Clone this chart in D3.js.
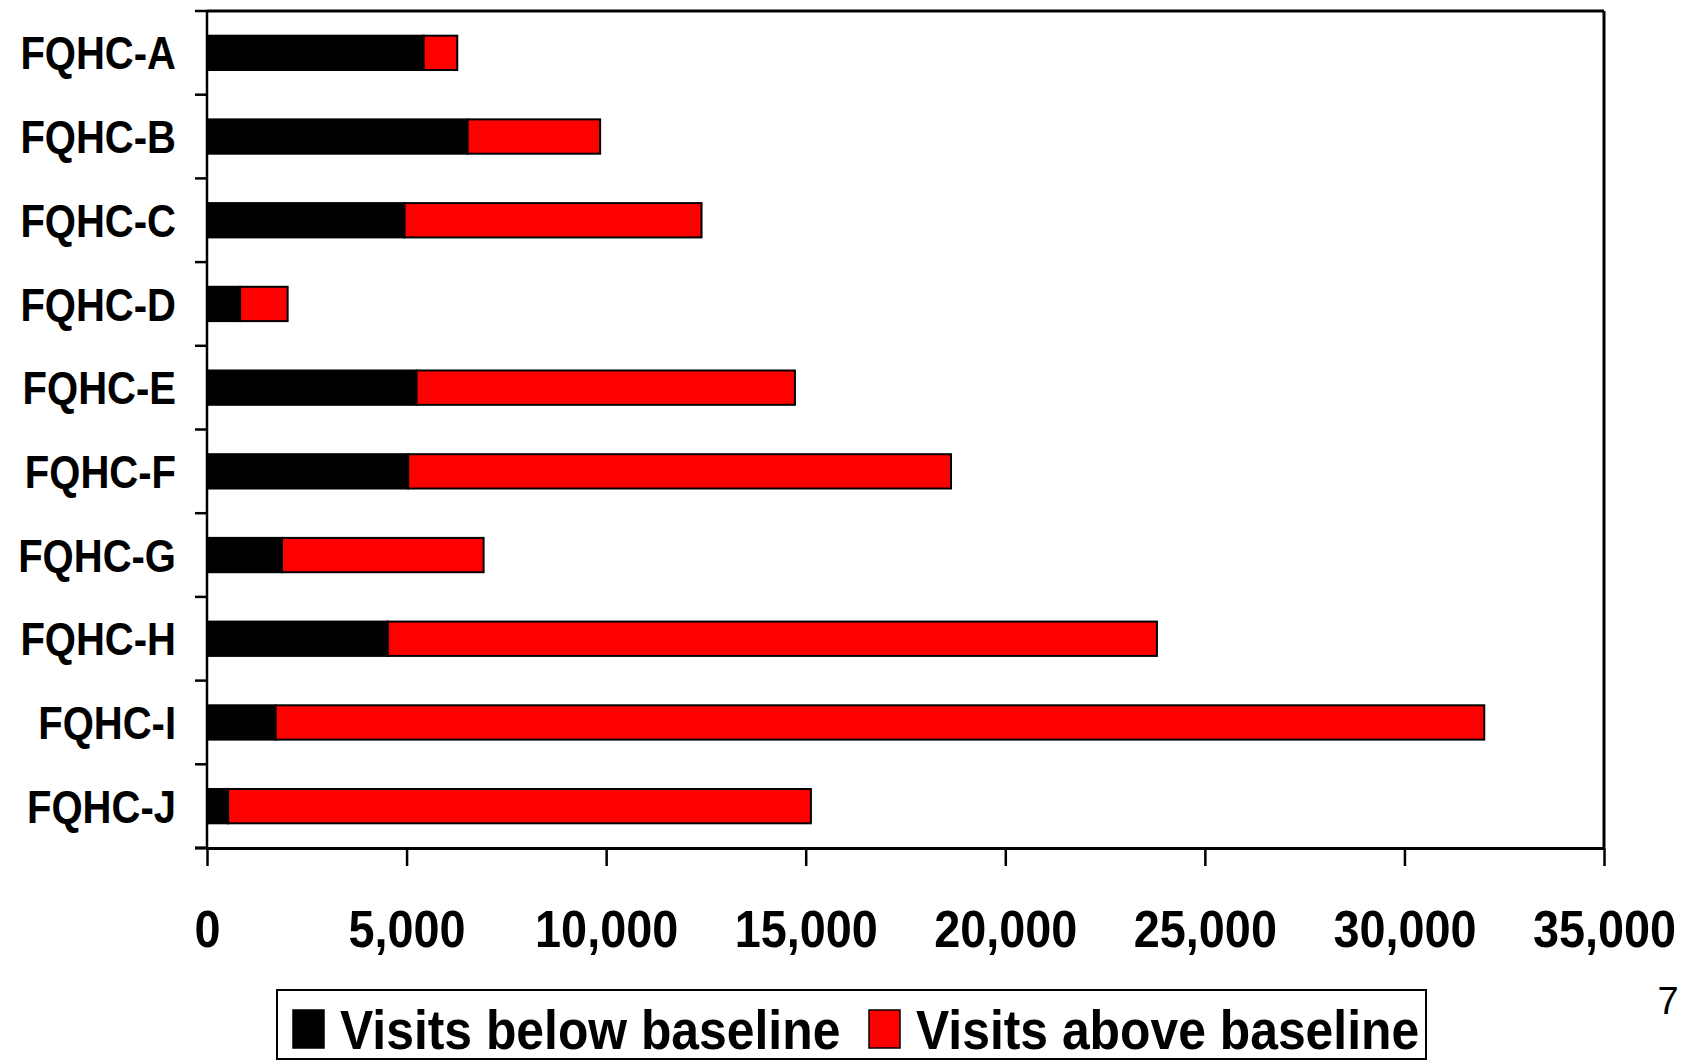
<!DOCTYPE html>
<html>
<head>
<meta charset="utf-8">
<script src="https://cdn.jsdelivr.net/npm/d3@7"></script>
<style>
  body { margin: 0; background: #fff; }
  text { font-family: "Liberation Sans", Arial, sans-serif; }
</style>
</head>
<body>
<div id="plot"></div>
<script>
const centers = ["FQHC-A", "FQHC-B", "FQHC-C", "FQHC-D", "FQHC-E",
                 "FQHC-F", "FQHC-G", "FQHC-H", "FQHC-I", "FQHC-J"];
const belowBaseline = [5430, 6530, 4950, 830, 5250, 5040, 1880, 4530, 1720, 530];
const aboveBaseline = [840, 3320, 7440, 1190, 9480, 13600, 5050, 19270, 30280, 14600];
const xTicks = [0, 5000, 10000, 15000, 20000, 25000, 30000, 35000];
const seriesNames = ["Visits below baseline", "Visits above baseline"];
const seriesColors = ["#000000", "#ff0000"];

// Set up the SVG container
const margin = { top: 11, right: 86, bottom: 214, left: 207 };
const width = 1690 - margin.left - margin.right;
const height = 1062 - margin.top - margin.bottom;

const root = d3.select("#plot").append("svg")
  .attr("width", 1690)
  .attr("height", 1062);

const svg = root.append("g")
  .attr("transform", "translate(" + margin.left + "," + margin.top + ")");

// Scales
const xScale = d3.scaleLinear().domain([0, 35000]).range([0, width]);
const yScale = d3.scaleBand().domain(centers).range([0, height])
  .paddingInner(0.59).paddingOuter(0.295);

// stacked data
const rows = centers.map((c, i) => ({ name: c, below: belowBaseline[i], above: aboveBaseline[i] }));
const stacked = d3.stack().keys(["below", "above"])(rows);

// plot frame (top and right)
svg.append("line")
  .attr("x1", 0).attr("x2", width).attr("y1", 0).attr("y2", 0)
  .attr("stroke", "#000").attr("stroke-width", 3);
svg.append("line")
  .attr("x1", width).attr("x2", width).attr("y1", 0).attr("y2", height)
  .attr("stroke", "#000").attr("stroke-width", 3);

// bars
svg.selectAll("g.series")
  .data(stacked)
  .enter().append("g")
  .attr("class", "series")
  .attr("fill", (d, i) => seriesColors[i])
  .selectAll("rect")
  .data(d => d)
  .enter().append("rect")
  .attr("x", d => xScale(d[0]))
  .attr("width", d => xScale(d[1]) - xScale(d[0]))
  .attr("y", d => yScale(d.data.name))
  .attr("height", yScale.bandwidth())
  .attr("stroke", "#000")
  .attr("stroke-width", 2);

// bottom axis
const xAxis = svg.append("g")
  .attr("transform", "translate(0," + height + ")")
  .call(d3.axisBottom(xScale).tickValues(xTicks).tickSize(18).tickSizeOuter(0)
    .tickFormat(d3.format(",")));
xAxis.select(".domain").attr("stroke-width", 3);
xAxis.selectAll(".tick line").attr("stroke-width", 2.5);
xAxis.selectAll(".tick text")
  .attr("font-size", 52)
  .attr("font-weight", "bold")
  .attr("fill", "#000")
  .attr("y", 62)
  .attr("dy", "0.71em")
  .attr("transform", "scale(0.9,1)");
// bottom line extends left to the outer tick
svg.append("line")
  .attr("x1", -12).attr("x2", 0).attr("y1", height).attr("y2", height)
  .attr("stroke", "#000").attr("stroke-width", 3);

// left axis: line plus ticks between categories
svg.append("line")
  .attr("x1", 0).attr("x2", 0).attr("y1", 0).attr("y2", height)
  .attr("stroke", "#000").attr("stroke-width", 2.5);
const bounds = centers.map(c => yScale(c) - yScale.step() * yScale.paddingOuter());
bounds.push(height);
svg.selectAll("line.ytick")
  .data(bounds)
  .enter().append("line")
  .attr("class", "ytick")
  .attr("x1", -12).attr("x2", 0)
  .attr("y1", d => d).attr("y2", d => d)
  .attr("stroke", "#000").attr("stroke-width", 2.5);

// category labels
svg.selectAll("text.cat")
  .data(centers)
  .enter().append("text")
  .attr("class", "cat")
  .attr("transform", d => "translate(-31," + (yScale(d) + yScale.bandwidth() / 2) + ") scale(0.87,1)")
  .attr("text-anchor", "end")
  .attr("dy", "0.36em")
  .attr("font-size", 46)
  .attr("font-weight", "bold")
  .attr("fill", "#000")
  .text(d => d);

// legend
const legend = root.append("g");
legend.append("rect")
  .attr("x", 277).attr("y", 990)
  .attr("width", 1149).attr("height", 69)
  .attr("fill", "#fff").attr("stroke", "#000").attr("stroke-width", 2);
const legendX = [293, 869];
seriesNames.forEach((name, i) => {
  legend.append("rect")
    .attr("x", legendX[i]).attr("y", 1010)
    .attr("width", 31).attr("height", 38)
    .attr("fill", seriesColors[i]).attr("stroke", "#000").attr("stroke-width", 1.5);
  legend.append("text")
    .attr("transform", "translate(" + (legendX[i] + 47) + ",1049) scale(0.89,1)")
    .attr("font-size", 56)
    .attr("font-weight", "bold")
    .attr("fill", "#000")
    .text(name);
});

// slide number
root.append("text")
  .attr("x", 1668).attr("y", 1014)
  .attr("text-anchor", "middle")
  .attr("font-size", 38)
  .attr("fill", "#000")
  .text("7");
</script>
</body>
</html>
